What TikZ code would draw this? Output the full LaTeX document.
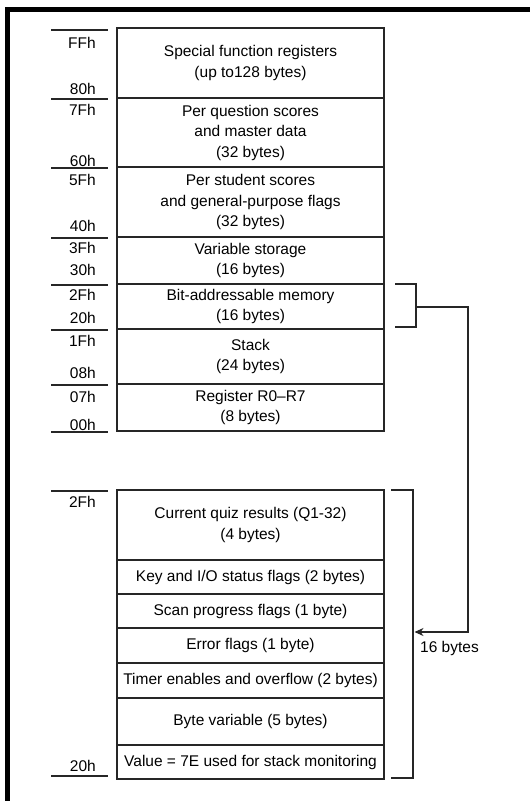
\documentclass[tikz,border=0pt]{standalone}
\usepackage{fontspec}
\setmainfont{Liberation Sans}
\usetikzlibrary{arrows.meta}
\begin{document}
\begin{tikzpicture}[x=1pt,y=-1pt,
  every node/.style={font=\fontsize{15.5}{20.5}\selectfont},
  cell/.style={draw=black!85,line width=1.2pt,minimum width=267pt,align=center,inner sep=0pt,text=black},
  addr/.style={anchor=east,inner sep=0pt,text=black},
  tick/.style={draw=black!85,line width=1.2pt},
  conn/.style={draw=black!85,line width=1.2pt},
  frame/.style={draw=black,line width=5pt,line join=miter}]
\useasboundingbox (0,0) rectangle (530,801);
% frame
\coordinate (f1) at (7.5,801);
\coordinate (f2) at (7.5,9.5);
\coordinate (f3) at (530,9.5);
\draw[frame] (f1) -- (f2) -- (f3);
% upper memory map
\node[cell,minimum height=70pt] (sfr) at (250.5,63) {Special function registers\\(up to128 bytes)};
\node[cell,minimum height=69pt] (pq) at (250.5,132.5) {Per question scores\\and master data\\(32 bytes)};
\node[cell,minimum height=70pt] (ps) at (250.5,202) {Per student scores\\and general-purpose flags\\(32 bytes)};
\node[cell,minimum height=47pt] (vs) at (250.5,260.5) {Variable storage\\(16 bytes)};
\node[cell,minimum height=45pt] (bam) at (250.5,306.5) {Bit-addressable memory\\(16 bytes)};
\node[cell,minimum height=55pt] (stk) at (250.5,356.5) {Stack\\(24 bytes)};
\node[cell,minimum height=47pt] (reg) at (250.5,407.5) {Register R0--R7\\(8 bytes)};
% lower map
\node[cell,minimum height=70pt] (cq) at (250.5,525) {Current quiz results (Q1-32)\\(4 bytes)};
\node[cell,minimum height=34pt] (kio) at (250.5,577) {Key and I/O status flags (2 bytes)};
\node[cell,minimum height=34pt] (scan) at (250.5,611) {Scan progress flags (1 byte)};
\node[cell,minimum height=35pt] (err) at (250.5,645.5) {Error flags (1 byte)};
\node[cell,minimum height=35pt] (tim) at (250.5,680.5) {Timer enables and overflow (2 bytes)};
\node[cell,minimum height=47pt] (bv) at (250.5,721.5) {Byte variable (5 bytes)};
\node[cell,minimum height=34pt] (val) at (250.5,762) {Value = 7E used for stack monitoring};
% address labels
\node[addr] (aFF) at (96,43) {FFh};
\node[addr] (a80) at (96,89) {80h};
\node[addr] (a7F) at (96,110) {7Fh};
\node[addr] (a60) at (96,161) {60h};
\node[addr] (a5F) at (96,180) {5Fh};
\node[addr] (a40) at (96,226) {40h};
\node[addr] (a3F) at (96,248) {3Fh};
\node[addr] (a30) at (96,270) {30h};
\node[addr] (a2F) at (96,295) {2Fh};
\node[addr] (a20) at (96,318) {20h};
\node[addr] (a1F) at (96,341) {1Fh};
\node[addr] (a08) at (96,373) {08h};
\node[addr] (a07) at (96,397) {07h};
\node[addr] (a00) at (96,425) {00h};
\node[addr] (b2F) at (96,502) {2Fh};
\node[addr] (b20) at (96,766) {20h};
% ticks
\foreach \y in {30,99,168,238,285,330,385,432,491,776}
  \draw[tick] (51,\y) -- (108,\y);
% upper bracket
\coordinate (ub1) at (395,284);
\coordinate (ub2) at (416,284);
\coordinate (ub3) at (416,327);
\coordinate (ub4) at (395,327);
\coordinate (um) at (416,307);
\coordinate (uc) at (468,307);
\coordinate (ud) at (468,632);
\draw[conn] (ub1) -- (ub2) -- (ub3) -- (ub4);
% lower bracket
\coordinate (lb1) at (391,490);
\coordinate (lb2) at (413,490);
\coordinate (lb3) at (413,778);
\coordinate (lb4) at (391,778);
\coordinate (la) at (414.5,632);
\draw[conn] (lb1) -- (lb2) -- (lb3) -- (lb4);
\draw[conn,-{Stealth[length=9pt,width=8pt]}] (um) -- (uc) -- (ud) -- (la);
\node[anchor=west,inner sep=0pt] (sixteen) at (420,648) {16 bytes};
\end{tikzpicture}
\end{document}
